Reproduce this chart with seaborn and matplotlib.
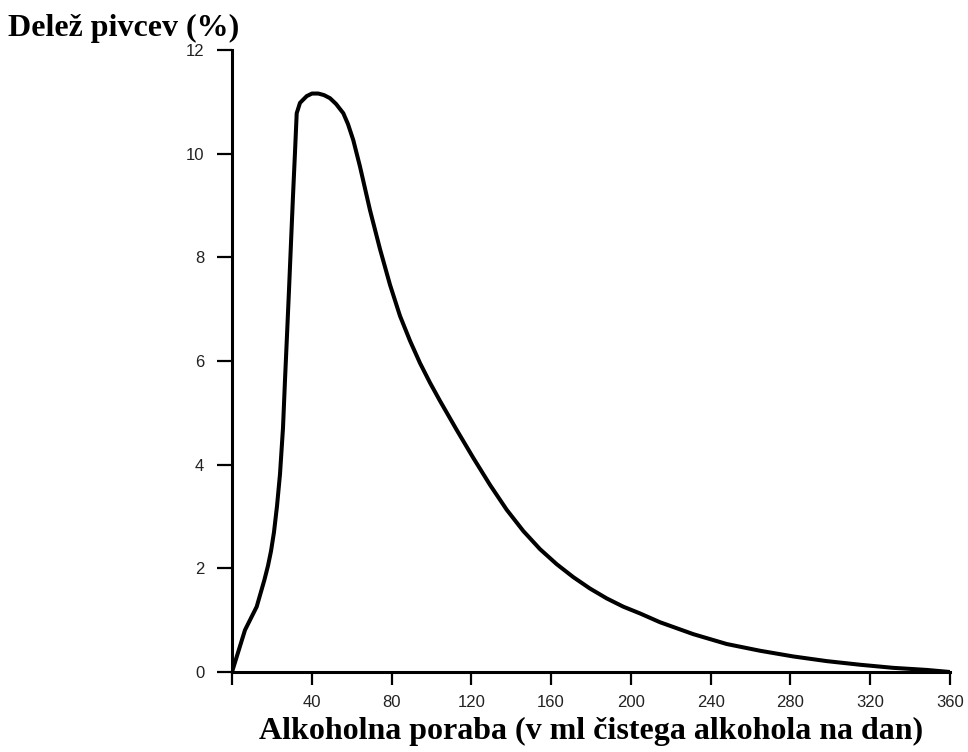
import matplotlib
matplotlib.use("Agg")
import matplotlib.pyplot as plt
import seaborn as sns
import pandas as pd

# Data
consumption_ml = [0, 6.52, 12.38, 16.20, 18.05, 19.55, 21.06, 22.56, 24.07, 25.57,
                  26.57, 27.58, 28.58, 29.58, 30.58, 31.59, 32.44, 34.09, 37.45,
                  40.11, 43.27, 46.13, 49.14, 52.15, 55.81, 58.16, 60.82, 64.18,
                  69.19, 74.20, 79.22, 84.23, 89.25, 94.26, 99.28, 104.29, 112.66,
                  120.99, 129.36, 137.73, 146.06, 154.43, 162.80, 171.13, 179.50,
                  187.87, 196.20, 204.57, 214.60, 231.30, 248.04, 264.74, 281.43,
                  298.18, 314.88, 331.58, 348.32, 360]
share_pct = [0, 0.81, 1.26, 1.77, 2.05, 2.33, 2.70, 3.20, 3.82, 4.71,
             5.63, 6.50, 7.37, 8.28, 9.18, 10.03, 10.78, 10.98, 11.11,
             11.16, 11.16, 11.13, 11.07, 10.96, 10.78, 10.57, 10.26, 9.75,
             8.91, 8.16, 7.47, 6.87, 6.39, 5.96, 5.58, 5.23, 4.67,
             4.13, 3.61, 3.13, 2.72, 2.37, 2.08, 1.83, 1.61,
             1.42, 1.26, 1.13, 0.96, 0.73, 0.54, 0.41, 0.30,
             0.21, 0.14, 0.08, 0.04, 0.0]
x_ticks = [0, 40, 80, 120, 160, 200, 240, 280, 320, 360]
x_tick_labels = ["", "40", "80", "120", "160", "200", "240", "280", "320", "360"]
y_ticks = [0, 2, 4, 6, 8, 10, 12]
y_tick_labels = ["0", "2", "4", "6", "8", "10", "12"]
x_label = "Alkoholna poraba (v ml čistega alkohola na dan)"
y_label = "Delež pivcev (%)"

df = pd.DataFrame({"x": consumption_ml, "y": share_pct})

sns.set_style("ticks")
plt.rcParams["font.family"] = ["Liberation Sans", "DejaVu Sans"]

fig = plt.figure(figsize=(9.68, 7.52), dpi=100)
ax = fig.add_axes([232 / 968, 80 / 752, 718 / 968, 622 / 752])

sns.lineplot(data=df, x="x", y="y", color="black", linewidth=2.9, ax=ax,
             sort=False, solid_joinstyle="round", solid_capstyle="round")

ax.set_xlim(0, 360)
ax.set_ylim(0, 12)
ax.set_xticks(x_ticks)
ax.set_xticklabels(x_tick_labels)
ax.set_yticks(y_ticks)
ax.set_yticklabels(y_tick_labels)

sns.despine(ax=ax)
for s in ["left", "bottom"]:
    ax.spines[s].set_linewidth(2.2)
    ax.spines[s].set_color("black")

ax.tick_params(axis="both", direction="out", width=1.6,
               colors="black", labelsize=12, labelcolor="#222222")
ax.tick_params(axis="x", length=9.5, pad=7)
ax.tick_params(axis="y", length=11, pad=9)

serif = ["Liberation Serif", "DejaVu Serif"]
ax.set_xlabel(x_label, fontsize=23, fontweight="bold", family=serif,
              va="center", color="black")
ax.xaxis.set_label_coords(0.5, -0.095)
ax.set_ylabel(y_label, fontsize=23, fontweight="bold", family=serif,
              rotation=0, ha="left", va="center", color="black")
ax.yaxis.set_label_coords(-0.312, 1.035)

fig.savefig("out.png", dpi=100)
